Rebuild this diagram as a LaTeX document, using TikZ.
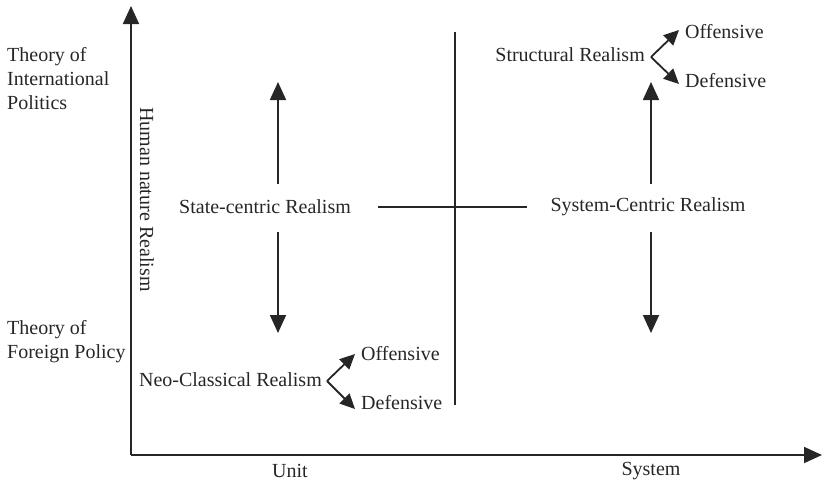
\documentclass[tikz,border=0pt]{standalone}
\usepackage{fontspec}
\setmainfont{Liberation Serif}
\usetikzlibrary{arrows.meta}
\begin{document}
\begin{tikzpicture}[x=1pt,y=-1pt,
  lbl/.style={inner sep=0pt,font=\fontsize{20}{24}\selectfont,text=black!85},
  ln/.style={line width=1.8pt,draw=black!85},
  arr/.style={ln,-{Triangle[length=18pt,width=16pt]}},
  sarr/.style={ln,-{Triangle[length=15pt,width=14pt]}}]
\useasboundingbox (0,0) rectangle (822,491);
% axes
\coordinate (O) at (131,455);
\coordinate (ytop) at (131,6);
\coordinate (xend) at (822,455);
\draw[arr] (O) -- (ytop);
\draw[arr] (O) -- (xend);
% dividing lines
\coordinate (vtop) at (455,32);
\coordinate (vbot) at (455,405);
\draw[ln] (vtop) -- (vbot);
% side labels
\node[lbl,anchor=west,align=left] (tip) at (7,79) {Theory of\\International\\Politics};
\node[lbl,anchor=west,align=left] (tfp) at (7,342) {Theory of\\Foreign Policy};
\node[lbl,rotate=-90,anchor=west] (hnr) at (147,107) {Human nature Realism};
\node[lbl] (unit) at (290,471) {Unit};
\node[lbl] (sys) at (651,471) {System};
% centre labels
\node[lbl] (scr) at (265,207) {State-centric Realism};
\node[lbl] (syr) at (648,207) {System-Centric Realism};
\coordinate (hl1) at (378,207);
\coordinate (hl2) at (527,207);
\draw[ln] (hl1) -- (hl2);
% vertical arrows
\coordinate (la1) at (278,184);
\coordinate (la2) at (278,82);
\coordinate (la3) at (278,232);
\coordinate (la4) at (278,333);
\draw[arr] (la1) -- (la2);
\draw[arr] (la3) -- (la4);
\coordinate (ra1) at (651,184);
\coordinate (ra2) at (651,82);
\coordinate (ra3) at (651,232);
\coordinate (ra4) at (651,333);
\draw[arr] (ra1) -- (ra2);
\draw[arr] (ra3) -- (ra4);
% structural realism
\node[lbl,anchor=east] (str) at (645,55) {Structural Realism};
\coordinate (sv) at (651,57);
\coordinate (so) at (679,30);
\coordinate (sd) at (679,84);
\draw[sarr] (sv) -- (so);
\draw[sarr] (sv) -- (sd);
\node[lbl,anchor=west] (soff) at (685,32) {Offensive};
\node[lbl,anchor=west] (sdef) at (685,81) {Defensive};
% neo-classical realism
\node[lbl,anchor=east] (ncr) at (322,380) {Neo-Classical Realism};
\coordinate (nv) at (327,381);
\coordinate (no) at (355,354);
\coordinate (nd) at (355,409);
\draw[sarr] (nv) -- (no);
\draw[sarr] (nv) -- (nd);
\node[lbl,anchor=west] (noff) at (361,354) {Offensive};
\node[lbl,anchor=west] (ndef) at (361,403) {Defensive};
\end{tikzpicture}
\end{document}
